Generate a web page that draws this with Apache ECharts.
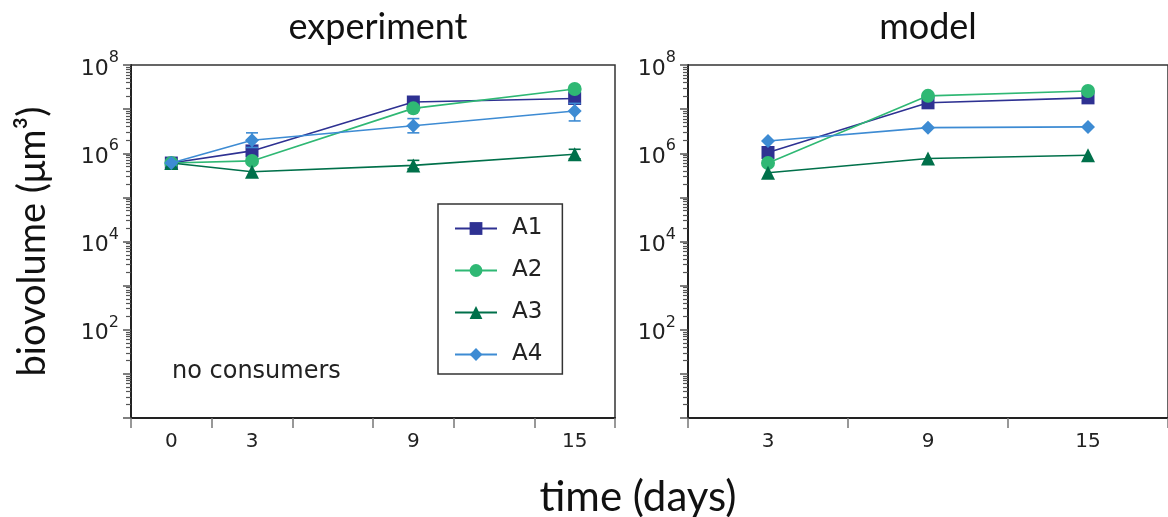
<!DOCTYPE html>
<html><head><meta charset="utf-8">
<script src="https://cdn.jsdelivr.net/npm/echarts@6/dist/echarts.min.js"></script>
<style>html,body{margin:0;padding:0;background:#fff}#c{width:1168px;height:517px}</style>
</head><body><div id="c"></div>
<script>
// ---- data ----
const expCategories = ['0', '3', '6', '9', '12', '15'];
const expDays = ['0', '3', '9', '15'];
const expA1 = [6.0e5, 1.13e6, 1.45e7, 1.74e7];
const expA2 = [6.0e5, 6.7e5, 1.04e7, 2.85e7];
const expA3 = [6.0e5, 3.8e5, 5.3e5, 9.5e5];
const expA4 = [6.0e5, 1.97e6, 4.2e6, 9.1e6];
// error bars (low / high), null = none
const expA3Low = [null, null, 4.4e5, 7.5e5];
const expA3High = [null, null, 6.9e5, 1.23e6];
const expA4Low = [null, 1.35e6, 2.9e6, 5.4e6];
const expA4High = [null, 2.9e6, 6.1e6, 1.35e7];

const modelCategories = ['3', '9', '15'];
const modelDays = ['3', '9', '15'];
const modA1 = [1.04e6, 1.39e7, 1.8e7];
const modA2 = [6.0e5, 2.0e7, 2.57e7];
const modA3 = [3.6e5, 7.6e5, 9.0e5];
const modA4 = [1.9e6, 3.8e6, 3.96e6];

const hiddenLabels = ['6', '12'];
const decadeMin = 0, decadeMax = 8;          // axis spans 10^0 .. 10^8
const labelledDecades = [2, 4, 6, 8];
const minorMult = [2, 3, 4, 5, 6, 7, 8, 9];

const seriesNames = ['A1', 'A2', 'A3', 'A4'];
const colors = ['#2e3192', '#2fb874', '#00704a', '#3d8bd3'];
const symbols = ['rect', 'circle', 'triangle', 'diamond'];
const symbolSizes = [13, 14, 14, 14];

// ---- build ----
const minorTickPos = [];
for (let e = decadeMin; e < decadeMax; e++) minorMult.forEach(m => minorTickPos.push(e + Math.log10(m)));

const tickFont = 'DejaVu Sans';
const titleFont = 'Lato';
function yAxes(gridIndex, withName) {
  const major = {
    type: 'value', min: decadeMin, max: decadeMax, interval: 1, gridIndex: gridIndex, position: 'left',
    axisLine: { show: true, lineStyle: { color: '#222', width: 2 } },
    axisTick: { show: true, length: 8, lineStyle: { color: '#555', width: 1.5 } },
    axisLabel: {
      show: true, margin: 12,
      formatter: v => labelledDecades.includes(v) ? '{b|10}{s|' + v + '}' : '',
      rich: {
        b: { fontFamily: tickFont, fontSize: 22, color: '#222', lineHeight: 30, verticalAlign: 'bottom' },
        s: { fontFamily: tickFont, fontSize: 16, color: '#222', lineHeight: 30, verticalAlign: 'top' }
      }
    },
    splitLine: { show: false }
  };
  if (withName) Object.assign(major, {
    name: 'biovolume (μm³)', nameLocation: 'middle', nameRotate: 90, nameGap: 79,
    nameTextStyle: { fontFamily: titleFont, fontSize: 38, color: '#111' }
  });
  return [{
    type: 'log', logBase: 10, min: Math.pow(10, decadeMin), max: Math.pow(10, decadeMax), gridIndex: gridIndex, show: false
  }, major, {
    type: 'value', min: decadeMin, max: decadeMax, gridIndex: gridIndex, position: 'left', offset: 0,
    axisLine: { show: true, lineStyle: { color: 'rgba(0,0,0,0)' } },
    axisTick: { show: true, interval: 0, customValues: minorTickPos, length: 5, lineStyle: { color: '#555', width: 1.2 } },
    axisLabel: { show: false },
    splitLine: { show: false }
  }];
}
function xAxis(gridIndex, cats) {
  return {
    type: 'category', data: cats, gridIndex: gridIndex, boundaryGap: true,
    axisLine: { show: true, lineStyle: { color: '#222', width: 2 } },
    axisTick: { show: true, interval: 0, length: 10, lineStyle: { color: '#777', width: 1.5 } },
    axisLabel: {
      interval: 0, margin: 14, fontFamily: tickFont, fontSize: 20, color: '#222',
      formatter: v => hiddenLabels.includes(v) ? '' : v
    },
    splitLine: { show: false }
  };
}

function lineSeries(name, i, xIdx, yIdx, cats, days, vals) {
  return {
    name: name, type: 'line', xAxisIndex: xIdx, yAxisIndex: yIdx,
    data: days.map((d, k) => [cats.indexOf(d), vals[k]]),
    symbol: symbols[i], symbolSize: symbolSizes[i],
    itemStyle: { color: colors[i] },
    lineStyle: { color: colors[i], width: 1.6 },
    emphasis: { disabled: true }, z: 3 + i, animation: false
  };
}
function errSeries(i, cats, days, low, high) {
  const data = [];
  days.forEach((d, k) => { if (low[k] != null) data.push([cats.indexOf(d), low[k], high[k]]); });
  return {
    type: 'custom', xAxisIndex: 0, yAxisIndex: 0, data: data, z: 2 + i, silent: true, animation: false,
    renderItem: (params, api) => {
      const lo = api.coord([api.value(0), api.value(1)]);
      const hi = api.coord([api.value(0), api.value(2)]);
      const w = 6;
      const st = { stroke: colors[i], lineWidth: 1.6 };
      return { type: 'group', children: [
        { type: 'line', shape: { x1: lo[0], y1: lo[1], x2: hi[0], y2: hi[1] }, style: st },
        { type: 'line', shape: { x1: lo[0] - w, y1: lo[1], x2: lo[0] + w, y2: lo[1] }, style: st },
        { type: 'line', shape: { x1: hi[0] - w, y1: hi[1], x2: hi[0] + w, y2: hi[1] }, style: st }
      ]};
    }
  };
}

const expVals = [expA1, expA2, expA3, expA4];
const modVals = [modA1, modA2, modA3, modA4];
const series = [];
series.push(errSeries(2, expCategories, expDays, expA3Low, expA3High));
series.push(errSeries(3, expCategories, expDays, expA4Low, expA4High));
seriesNames.forEach((n, i) => series.push(lineSeries(n, i, 0, 0, expCategories, expDays, expVals[i])));
seriesNames.forEach((n, i) => series.push(lineSeries(n, i, 1, 3, modelCategories, modelDays, modVals[i])));

const option = {
  backgroundColor: '#fff',
  animation: false,
  title: [
    { text: 'experiment', left: 378, top: 9, padding: 0, textAlign: 'center', textStyle: { fontFamily: titleFont, fontSize: 36, fontWeight: 'normal', color: '#111' } },
    { text: 'model', left: 928, top: 9, padding: 0, textAlign: 'center', textStyle: { fontFamily: titleFont, fontSize: 36, fontWeight: 'normal', color: '#111' } },
    { text: 'time (days)', left: 638, top: 476, padding: 0, textAlign: 'center', textStyle: { fontFamily: titleFont, fontSize: 42, fontWeight: 'normal', color: '#111' } },
    { text: 'no consumers', left: 172, top: 360, padding: 0, textStyle: { fontFamily: tickFont, fontSize: 24, fontWeight: 'normal', color: '#222' } }
  ],
  grid: [
    { left: 131, top: 65, width: 484, height: 353, show: true, borderColor: '#333', borderWidth: 1.5, backgroundColor: 'transparent' },
    { left: 688, top: 65, width: 488, height: 353, show: true, borderColor: '#333', borderWidth: 1.5, backgroundColor: 'transparent' }
  ],
  xAxis: [xAxis(0, expCategories), xAxis(1, modelCategories)],
  yAxis: [].concat(yAxes(0, true), yAxes(1, false)),
  legend: {
    data: seriesNames, orient: 'vertical', left: 438, top: 204,
    borderColor: '#333', borderWidth: 1.5, padding: [13, 20, 8, 16],
    itemWidth: 42, itemHeight: 16, itemGap: 19,
    textStyle: { fontFamily: tickFont, fontSize: 23, color: '#222', padding: [0, 0, 0, 10] },
    selectedMode: false
  },
  series: series
};
const chart = echarts.init(document.getElementById('c'), null, { renderer: 'canvas' });
chart.setOption(option);
</script></body></html>
